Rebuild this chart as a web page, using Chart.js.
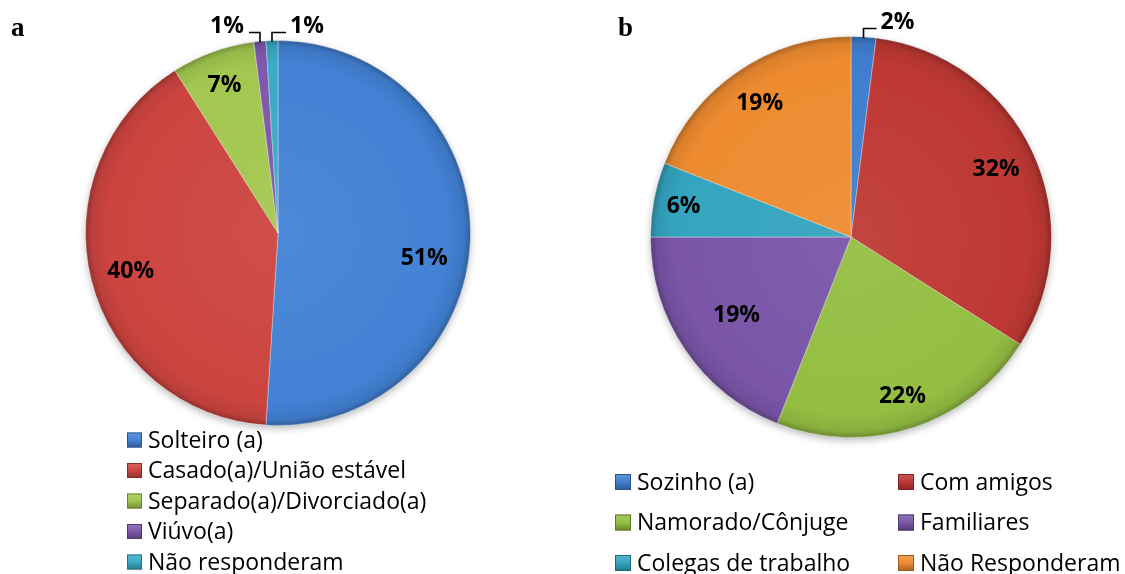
<!DOCTYPE html>
<html>
<head>
<meta charset="utf-8">
<script src="https://cdn.jsdelivr.net/npm/chart.js@4/dist/chart.umd.min.js"></script>
<style>
  html, body { margin: 0; padding: 0; background: #fff; }
  #wrap { position: relative; width: 1125px; height: 574px; overflow: hidden; }
  canvas { position: absolute; top: 0; }
  #ca { left: 0; }
  #cb { left: 560px; }
  .tag { position: absolute; top: 12px; font: bold 27px "Liberation Serif", "Times New Roman", serif; color: #000; }
</style>
</head>
<body>
<div id="wrap">
  <canvas id="ca" width="560" height="574"></canvas>
  <canvas id="cb" width="565" height="574"></canvas>
  <div class="tag" style="left:11px">a</div>
  <div class="tag" style="left:618px">b</div>
</div>
<script>
// Panel a: estado civil
const estadoLabels = ['Solteiro (a)', 'Casado(a)/União estável', 'Separado(a)/Divorciado(a)', 'Viúvo(a)', 'Não responderam'];
const estadoValues = [51, 40, 7, 1, 1];

// Panel b: com quem
const companhiaLabels = ['Sozinho (a)', 'Com amigos', 'Namorado/Cônjuge', 'Familiares', 'Colegas de trabalho', 'Não Responderam'];
const companhiaValues = [2, 32, 22, 19, 6, 19];

// slice colours
const estadoColors = ['#4281D4', '#CC4440', '#A2C74F', '#7E58AC', '#3AAAC6'];
const companhiaColors = ['#3F7ECF', '#BE3834', '#94BE42', '#7A55A8', '#34A4BF', '#EE8B30'];

function shade(hex, amt) {
  const n = parseInt(hex.slice(1), 16);
  let r = (n >> 16) & 255, g = (n >> 8) & 255, b = n & 255;
  const f = v => Math.max(0, Math.min(255, Math.round(amt >= 0 ? v + (255 - v) * amt : v * (1 + amt))));
  return `rgb(${f(r)},${f(g)},${f(b)})`;
}

// radial bevel: slightly lighter inside, darker towards the rim
function bevelFill(colors) {
  return (ctx) => {
    const base = colors[ctx.dataIndex];
    const area = ctx.chart.chartArea;
    if (!area) return base;
    const cx = (area.left + area.right) / 2, cy = (area.top + area.bottom) / 2;
    const r = Math.min(area.right - area.left, area.bottom - area.top) / 2;
    const g = ctx.chart.ctx.createRadialGradient(cx, cy, 0, cx, cy, r);
    g.addColorStop(0, shade(base, 0.06));
    g.addColorStop(0.88, base);
    g.addColorStop(0.965, shade(base, -0.08));
    g.addColorStop(1, shade(base, -0.28));
    return g;
  };
}

// soft shadow under the pie
const pieShadow = {
  id: 'pieShadow',
  beforeDatasetsDraw(chart) {
    const arc = chart.getDatasetMeta(0).data[0];
    if (!arc) return;
    const { x, y, outerRadius } = arc.getProps(['x', 'y', 'outerRadius'], true);
    const ctx = chart.ctx;
    ctx.save();
    ctx.shadowColor = 'rgba(0,0,0,0.32)';
    ctx.shadowBlur = 9;
    ctx.shadowOffsetY = 3;
    ctx.fillStyle = '#888';
    ctx.beginPath();
    ctx.arc(x, y, outerRadius - 1, 0, Math.PI * 2);
    ctx.fill();
    ctx.restore();
  }
};

// percentage labels, inside the slice or on a leader line above the pie
const sliceLabels = {
  id: 'sliceLabels',
  afterDatasetsDraw(chart, args, opts) {
    const ctx = chart.ctx;
    const meta = chart.getDatasetMeta(0);
    const values = chart.data.datasets[0].data;
    ctx.save();
    ctx.font = 'bold 23px "Open Sans", sans-serif';
    ctx.fillStyle = '#000';
    ctx.textBaseline = 'middle';
    meta.data.forEach((arc, i) => {
      const p = opts.place[i];
      const { x, y, startAngle, endAngle, outerRadius } =
        arc.getProps(['x', 'y', 'startAngle', 'endAngle', 'outerRadius'], true);
      const mid = (startAngle + endAngle) / 2 + (p.da || 0) * Math.PI / 180;
      const text = values[i] + '%';
      if (p.leader) {
        const sx = x + Math.cos(mid) * (outerRadius - 1);
        const sy = y + Math.sin(mid) * (outerRadius - 1);
        const ty = y - outerRadius - 8;
        const ex = sx + p.leader;
        ctx.strokeStyle = '#000';
        ctx.lineWidth = 1.6;
        ctx.beginPath();
        ctx.moveTo(sx, sy);
        ctx.lineTo(sx, ty);
        ctx.lineTo(ex, ty);
        ctx.stroke();
        ctx.textAlign = p.leader < 0 ? 'right' : 'left';
        ctx.fillText(text, ex + (p.leader < 0 ? -5 : 4), ty - 6);
      } else {
        ctx.textAlign = 'center';
        ctx.fillText(text, x + Math.cos(mid) * outerRadius * p.f, y + Math.sin(mid) * outerRadius * p.f + 1);
      }
    });
    ctx.restore();
  }
};

// legend drawn as a grid of bevelled swatches
const swatchLegend = {
  id: 'swatchLegend',
  afterDraw(chart, args, opts) {
    const ctx = chart.ctx;
    const labels = chart.data.labels;
    const colors = opts.colors;
    ctx.save();
    ctx.font = '23px "Open Sans", sans-serif';
    ctx.textBaseline = 'middle';
    ctx.textAlign = 'left';
    labels.forEach((lab, i) => {
      const col = i % opts.cols, row = Math.floor(i / opts.cols);
      const bx = opts.x[col], cy = opts.y + row * opts.rowGap;
      const s = opts.box;
      const by = cy - s / 2;
      const g = ctx.createLinearGradient(bx, by, bx, by + s);
      g.addColorStop(0, shade(colors[i], 0.18));
      g.addColorStop(0.5, colors[i]);
      g.addColorStop(1, shade(colors[i], -0.3));
      ctx.fillStyle = g;
      ctx.fillRect(bx, by, s, s);
      ctx.strokeStyle = shade(colors[i], -0.35);
      ctx.lineWidth = 1;
      ctx.strokeRect(bx + 0.5, by + 0.5, s - 1, s - 1);
      ctx.fillStyle = '#000';
      ctx.fillText(lab, bx + opts.textGap, cy + 1);
    });
    ctx.restore();
  }
};

function makePie(id, labels, values, colors, padding, place, legend) {
  return new Chart(document.getElementById(id), {
    type: 'pie',
    data: {
      labels: labels,
      datasets: [{
        data: values,
        backgroundColor: bevelFill(colors),
        borderColor: 'rgba(255,255,255,0.35)',
        borderWidth: 1
      }]
    },
    options: {
      responsive: false,
      animation: false,
      layout: { padding: padding },
      plugins: {
        legend: { display: false },
        tooltip: { enabled: false },
        sliceLabels: { place: place },
        swatchLegend: Object.assign({ colors: colors }, legend)
      }
    },
    plugins: [pieShadow, sliceLabels, swatchLegend]
  });
}

makePie('ca', estadoLabels, estadoValues, estadoColors,
  { left: 85, right: 89, top: 40, bottom: 148 },
  [{ f: 0.77, da: 7.7 }, { f: 0.79 }, { f: 0.82 }, { leader: -11 }, { leader: 14 }],
  { cols: 1, x: [127], y: 440, rowGap: 30.5, box: 15, textGap: 21 });

makePie('cb', companhiaLabels, companhiaValues, companhiaColors,
  { left: 90, right: 73, top: 36, bottom: 136 },
  [{ leader: 13 }, { f: 0.8 }, { f: 0.83 }, { f: 0.69 }, { f: 0.85 }, { f: 0.81 }],
  { cols: 2, x: [55, 338], y: 482, rowGap: 40.5, box: 16, textGap: 22 });
</script>
</body>
</html>
